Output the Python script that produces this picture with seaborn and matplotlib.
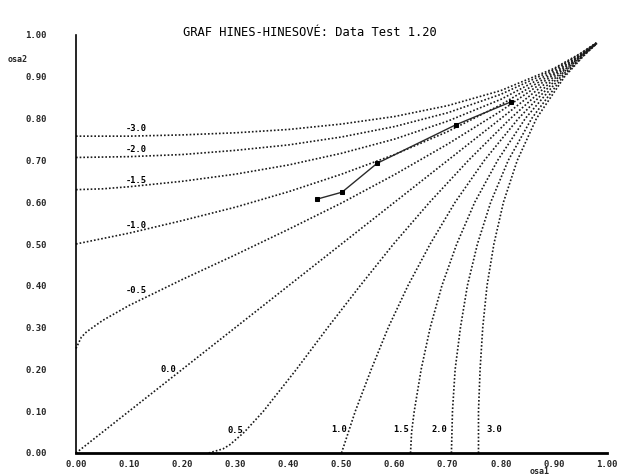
import matplotlib
matplotlib.use("Agg")
import matplotlib.pyplot as plt
import seaborn as sns
import pandas as pd

# ---------------- data ----------------
title = "GRAF HINES-HINESOVÉ: Data Test 1.20"

# shared grid along the "free" axis
grid = [0.0, 0.05, 0.1, 0.2, 0.3, 0.4, 0.5, 0.6, 0.7, 0.8, 0.9, 0.95, 0.98]
grid_half = [0.0, 0.01, 0.02, 0.05, 0.1, 0.2, 0.3, 0.4, 0.5, 0.6, 0.7, 0.8, 0.9, 0.95, 0.98]

# negative curves: osa1 = grid, osa2 = values
osa2_m30 = [0.758, 0.758, 0.758, 0.761, 0.766, 0.774, 0.787, 0.805, 0.831, 0.867, 0.920, 0.956, 0.981]
osa2_m20 = [0.707, 0.708, 0.709, 0.714, 0.724, 0.737, 0.756, 0.781, 0.814, 0.858, 0.917, 0.955, 0.981]
osa2_m15 = [0.630, 0.632, 0.637, 0.650, 0.667, 0.689, 0.717, 0.751, 0.794, 0.846, 0.913, 0.954, 0.981]
osa2_m10 = [0.500, 0.513, 0.526, 0.556, 0.588, 0.625, 0.667, 0.714, 0.769, 0.833, 0.909, 0.952, 0.980]
osa2_m05 = [0.250, 0.277, 0.290, 0.317, 0.353, 0.415, 0.474, 0.535, 0.598, 0.666, 0.739, 0.818, 0.905, 0.951, 0.980]
# zero curve
osa_00 = [0.0, 0.1, 0.2, 0.3, 0.4, 0.5, 0.6, 0.7, 0.8, 0.9, 0.98]
# positive curves: osa2 = grid, osa1 = values
osa1_p05 = [0.250, 0.277, 0.290, 0.317, 0.353, 0.415, 0.474, 0.535, 0.598, 0.666, 0.739, 0.818, 0.905, 0.951, 0.980]
osa1_p10 = [0.500, 0.513, 0.526, 0.556, 0.588, 0.625, 0.667, 0.714, 0.769, 0.833, 0.909, 0.952, 0.980]
osa1_p15 = [0.630, 0.632, 0.637, 0.650, 0.667, 0.689, 0.717, 0.751, 0.794, 0.846, 0.913, 0.954, 0.981]
osa1_p20 = [0.707, 0.708, 0.709, 0.714, 0.724, 0.737, 0.756, 0.781, 0.814, 0.858, 0.917, 0.955, 0.981]
osa1_p30 = [0.758, 0.758, 0.758, 0.761, 0.766, 0.774, 0.787, 0.805, 0.831, 0.867, 0.920, 0.956, 0.981]

curve_labels = ["-3.0", "-2.0", "-1.5", "-1.0", "-0.5", "0.0", "0.5", "1.0", "1.5", "2.0", "3.0"]
label_x = [0.114, 0.114, 0.114, 0.114, 0.114, 0.174, 0.300, 0.495, 0.613, 0.684, 0.787]
label_y = [0.777, 0.725, 0.653, 0.544, 0.388, 0.200, 0.055, 0.057, 0.057, 0.057, 0.057]

# measured data points
data_osa1 = [0.453, 0.501, 0.567, 0.715, 0.819]
data_osa2 = [0.607, 0.624, 0.693, 0.785, 0.840]

ticks = [0.0, 0.1, 0.2, 0.3, 0.4, 0.5, 0.6, 0.7, 0.8, 0.9, 1.0]

# ---------------- build table ----------------
rows = []
def add(name, xs, ys):
    for i, (a, b) in enumerate(zip(xs, ys)):
        rows.append({"lam": name, "order": i, "osa1": a, "osa2": b})

add("-3.0", grid, osa2_m30)
add("-2.0", grid, osa2_m20)
add("-1.5", grid, osa2_m15)
add("-1.0", grid, osa2_m10)
add("-0.5", grid_half, osa2_m05)
add("0.0", osa_00, osa_00)
add("0.5", osa1_p05, grid_half)
add("1.0", osa1_p10, grid)
add("1.5", osa1_p15, grid)
add("2.0", osa1_p20, grid)
add("3.0", osa1_p30, grid)
curves = pd.DataFrame(rows)
pts = pd.DataFrame({"osa1": data_osa1, "osa2": data_osa2})

# ---------------- plot ----------------
sns.set_style("white")
plt.rcParams["font.family"] = ["DejaVu Sans Mono", "DejaVu Sans"]

fig = plt.figure(figsize=(6.22, 4.74), dpi=100)
ax = fig.add_axes([76 / 622, 1 - 453 / 474, 531 / 622, 418 / 474])

for name in curve_labels:
    sub = curves[curves["lam"] == name]
    sns.lineplot(data=sub, x="osa1", y="osa2", sort=False, estimator=None,
                 color="#1a1a1a", linewidth=1.2, linestyle=(0, (1, 1.2)),
                 ax=ax, clip_on=False)

sns.lineplot(data=pts, x="osa1", y="osa2", sort=False, estimator=None,
             color="#2a2a2a", linewidth=1.0, marker="s", markersize=3,
             markerfacecolor="black", markeredgecolor="black", ax=ax)

for t, lx, ly in zip(curve_labels, label_x, label_y):
    ax.text(lx, ly, t, fontsize=6.3, fontweight="bold", ha="center", va="center",
            color="black")

ax.set_xlim(0, 1)
ax.set_ylim(0, 1)
ax.set_xticks(ticks)
ax.set_yticks(ticks)
ax.set_xticklabels([f"{v:.2f}" for v in ticks])
ax.set_yticklabels([f"{v:.2f}" for v in ticks])
ax.set_xlabel("")
ax.set_ylabel("")
for s in ["top", "right"]:
    ax.spines[s].set_visible(False)
ax.spines["left"].set_linewidth(1.2)
ax.spines["bottom"].set_linewidth(2.0)
ax.spines["left"].set_color("black")
ax.spines["bottom"].set_color("black")
ax.tick_params(axis="both", direction="in", length=4, width=1.0, color="black",
               labelsize=6.5)
ax.tick_params(axis="y", pad=21)
ax.tick_params(axis="x", pad=5)
for lab in ax.get_xticklabels() + ax.get_yticklabels():
    lab.set_fontweight("bold")

fig.text(310 / 622, 1 - 32 / 474, title, fontsize=8.7, ha="center", va="center",
         color="black")
fig.text(18 / 622, 1 - 59 / 474, "osa2", fontsize=6, fontweight="bold",
         ha="center", va="center")
fig.text(540 / 622, 1 - 471 / 474, "osa1", fontsize=6, fontweight="bold",
         ha="center", va="center")

fig.savefig("out.png", dpi=100)
